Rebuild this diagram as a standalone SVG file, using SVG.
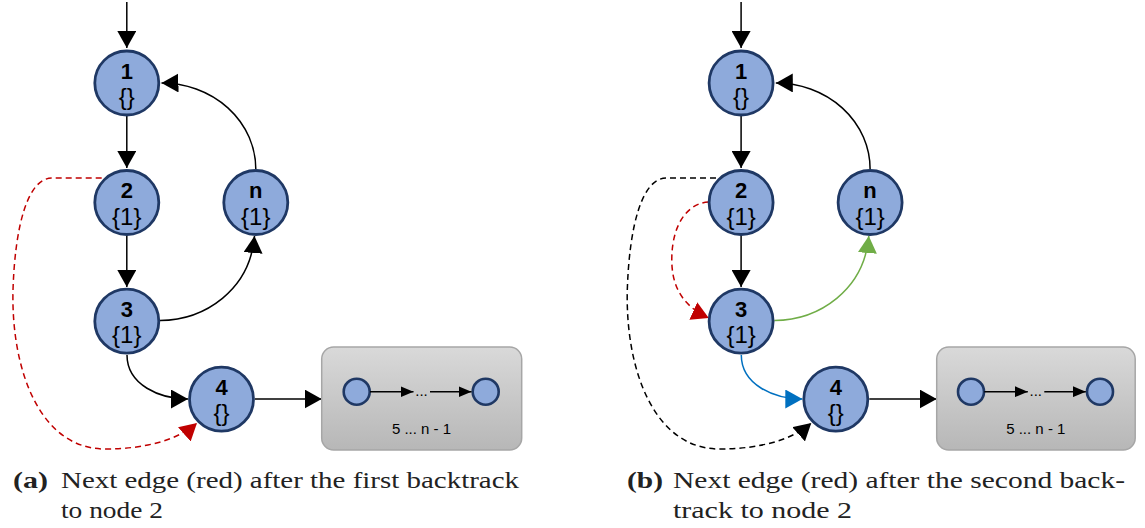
<svg xmlns="http://www.w3.org/2000/svg" width="1145" height="528" viewBox="0 0 1145 528">
  <defs>
    <style>
      .node circle { fill: #8eaadb; stroke: #1f3864; stroke-width: 2.8; }
      .num { font-family: "Liberation Sans", Arial, sans-serif; font-weight: bold; font-size: 22px; text-anchor: middle; fill: #000; }
      .set { font-family: "Liberation Sans", Arial, sans-serif; font-size: 24px; text-anchor: middle; fill: #000; }
      .edge { fill: none; stroke: #000; stroke-width: 1.5; }
      .dash { stroke-dasharray: 6 4; }
      .red { stroke: #c00000; }
      .green { stroke: #70ad47; }
      .blue { stroke: #0070c0; }
      .mini circle { fill: #8eaadb; stroke: #1f3864; stroke-width: 2.6; }
      .boxtxt { font-family: "Liberation Sans", Arial, sans-serif; font-size: 15px; text-anchor: middle; fill: #000; }
      .cap { font-family: "Liberation Serif", "Times New Roman", serif; font-size: 23px; fill: #222; }
      .capb { font-family: "Liberation Serif", "Times New Roman", serif; font-size: 23px; font-weight: bold; fill: #222; }
    </style>
    <marker id="ah" markerWidth="17" markerHeight="19" refX="17" refY="9.5" orient="auto" markerUnits="userSpaceOnUse">
      <path d="M0,0 L17,9.5 L0,19 Z" fill="#000"/>
    </marker>
    <marker id="ah-red" markerWidth="17" markerHeight="19" refX="17" refY="9.5" orient="auto" markerUnits="userSpaceOnUse">
      <path d="M0,0 L17,9.5 L0,19 Z" fill="#c00000"/>
    </marker>
    <marker id="ah-green" markerWidth="17" markerHeight="19" refX="17" refY="9.5" orient="auto" markerUnits="userSpaceOnUse">
      <path d="M0,0 L17,9.5 L0,19 Z" fill="#70ad47"/>
    </marker>
    <marker id="ah-blue" markerWidth="17" markerHeight="19" refX="17" refY="9.5" orient="auto" markerUnits="userSpaceOnUse">
      <path d="M0,0 L17,9.5 L0,19 Z" fill="#0070c0"/>
    </marker>
    <marker id="ah-small" markerWidth="13" markerHeight="11" refX="13" refY="5.5" orient="auto" markerUnits="userSpaceOnUse">
      <path d="M0,0 L13,5.5 L0,11 Z" fill="#000"/>
    </marker>
    <linearGradient id="boxfill" x1="0" y1="0" x2="0" y2="1">
      <stop offset="0" stop-color="#d9d9d9"/>
      <stop offset="1" stop-color="#b7b7b7"/>
    </linearGradient>
  </defs>

  <rect width="1145" height="528" fill="#fff"/>

  <!-- Panel (a) -->
  <g id="panel-a">
    <g id="a-connectors">
      <path class="edge" d="M126.8,2 L126.8,48" marker-end="url(#ah)"/>
      <path class="edge" d="M126.8,116 L126.8,168" marker-end="url(#ah)"/>
      <path class="edge" d="M126.8,235 L126.8,287" marker-end="url(#ah)"/>
      <path class="edge" d="M255.8,169 A94,86 0 0 0 161.5,83" marker-end="url(#ah)"/>
      <path class="edge" d="M160,320.5 C205,320 250,290 254.5,236" marker-end="url(#ah)"/>
      <path class="edge" d="M127,355 C127,385 160,399 188,399" marker-end="url(#ah)"/>
      <path class="edge" d="M255,399 L321.7,399" marker-end="url(#ah)"/>
      <path class="edge dash red" d="M101.7,178 L52,178 C28,178 15,225 13,290 C11,370 40,449 105,449 C145,449 178,440 197,423" marker-end="url(#ah-red)"/>
    </g>
    <g id="a-node-1" class="node">
      <circle cx="126.8" cy="83" r="32"/>
      <text class="num" x="126.8" y="79">1</text>
      <text class="set" x="126.8" y="105">{}</text>
    </g>
    <g id="a-node-2" class="node">
      <circle cx="126.8" cy="202.5" r="32"/>
      <text class="num" x="126.8" y="198">2</text>
      <text class="set" x="126.8" y="224.5">{1}</text>
    </g>
    <g id="a-node-n" class="node">
      <circle cx="255.8" cy="202.5" r="32"/>
      <text class="num" x="255.8" y="198">n</text>
      <text class="set" x="255.8" y="224.5">{1}</text>
    </g>
    <g id="a-node-3" class="node">
      <circle cx="126.8" cy="321.2" r="32"/>
      <text class="num" x="126.8" y="316.5">3</text>
      <text class="set" x="126.8" y="343">{1}</text>
    </g>
    <g id="a-node-4" class="node">
      <circle cx="221.5" cy="399.2" r="32"/>
      <text class="num" x="221.5" y="394.5">4</text>
      <text class="set" x="221.5" y="421">{}</text>
    </g>
    <g id="a-group-5-n1">
      <rect x="321.7" y="347" width="200" height="103" rx="12" fill="url(#boxfill)" stroke="#a6a6a6" stroke-width="1.5"/>
      <g class="mini">
        <circle cx="356.7" cy="391.7" r="13"/>
        <circle cx="485.7" cy="391.7" r="13"/>
      </g>
      <path class="edge" d="M370,391.7 L413.5,391.7" marker-end="url(#ah-small)"/>
      <path class="edge" d="M430,391.7 L471.5,391.7" marker-end="url(#ah-small)"/>
      <text class="boxtxt" x="421.5" y="396">...</text>
      <text class="boxtxt" x="421.5" y="434">5 ... n - 1</text>
    </g>
    <g id="a-caption">
      <text class="capb" x="13" y="488" textLength="35" lengthAdjust="spacingAndGlyphs">(a)</text>
      <text class="cap" x="61" y="488" textLength="458" lengthAdjust="spacingAndGlyphs">Next edge (red) after the first backtrack</text>
      <text class="cap" x="61" y="518" textLength="102" lengthAdjust="spacingAndGlyphs">to node 2</text>
    </g>
  </g>

  <!-- Panel (b) -->
  <g id="panel-b" transform="translate(614.3,0)">
    <g id="b-connectors">
      <path class="edge" d="M126.8,2 L126.8,48" marker-end="url(#ah)"/>
      <path class="edge" d="M126.8,116 L126.8,168" marker-end="url(#ah)"/>
      <path class="edge" d="M126.8,235 L126.8,287" marker-end="url(#ah)"/>
      <path class="edge" d="M255.8,169 A94,86 0 0 0 161.5,83" marker-end="url(#ah)"/>
      <path class="edge green" d="M160,320.5 C205,320 250,290 254.5,236" marker-end="url(#ah-green)"/>
      <path class="edge blue" d="M127,355 C127,385 160,399 188,399" marker-end="url(#ah-blue)"/>
      <path class="edge" d="M255,399 L322.4,399" marker-end="url(#ah)"/>
      <path class="edge dash" d="M101.7,178 L52,178 C28,178 15,225 13,290 C11,370 40,449 105,449 C145,449 178,440 197,423" marker-end="url(#ah)"/>
      <path class="edge dash red" d="M94,202 C75,203 58,222 57.5,258 C57,286 68,306 94.5,318" marker-end="url(#ah-red)"/>
    </g>
    <g id="b-node-1" class="node">
      <circle cx="126.8" cy="83" r="32"/>
      <text class="num" x="126.8" y="79">1</text>
      <text class="set" x="126.8" y="105">{}</text>
    </g>
    <g id="b-node-2" class="node">
      <circle cx="126.8" cy="202.5" r="32"/>
      <text class="num" x="126.8" y="198">2</text>
      <text class="set" x="126.8" y="224.5">{1}</text>
    </g>
    <g id="b-node-n" class="node">
      <circle cx="255.8" cy="202.5" r="32"/>
      <text class="num" x="255.8" y="198">n</text>
      <text class="set" x="255.8" y="224.5">{1}</text>
    </g>
    <g id="b-node-3" class="node">
      <circle cx="126.8" cy="321.2" r="32"/>
      <text class="num" x="126.8" y="316.5">3</text>
      <text class="set" x="126.8" y="343">{1}</text>
    </g>
    <g id="b-node-4" class="node">
      <circle cx="221.5" cy="399.2" r="32"/>
      <text class="num" x="221.5" y="394.5">4</text>
      <text class="set" x="221.5" y="421">{}</text>
    </g>
    <g id="b-group-5-n1">
      <rect x="322.4" y="347" width="198.5" height="103" rx="12" fill="url(#boxfill)" stroke="#a6a6a6" stroke-width="1.5"/>
      <g class="mini">
        <circle cx="356.7" cy="391.7" r="13"/>
        <circle cx="485.7" cy="391.7" r="13"/>
      </g>
      <path class="edge" d="M370,391.7 L413.5,391.7" marker-end="url(#ah-small)"/>
      <path class="edge" d="M430,391.7 L471.5,391.7" marker-end="url(#ah-small)"/>
      <text class="boxtxt" x="421.5" y="396">...</text>
      <text class="boxtxt" x="421.5" y="434">5 ... n - 1</text>
    </g>
  </g>
  <g id="b-caption">
    <text class="capb" x="627" y="488" textLength="36" lengthAdjust="spacingAndGlyphs">(b)</text>
    <text class="cap" x="673" y="488" textLength="452" lengthAdjust="spacingAndGlyphs">Next edge (red) after the second back-</text>
    <text class="cap" x="673" y="518" textLength="179" lengthAdjust="spacingAndGlyphs">track to node 2</text>
  </g>
</svg>
